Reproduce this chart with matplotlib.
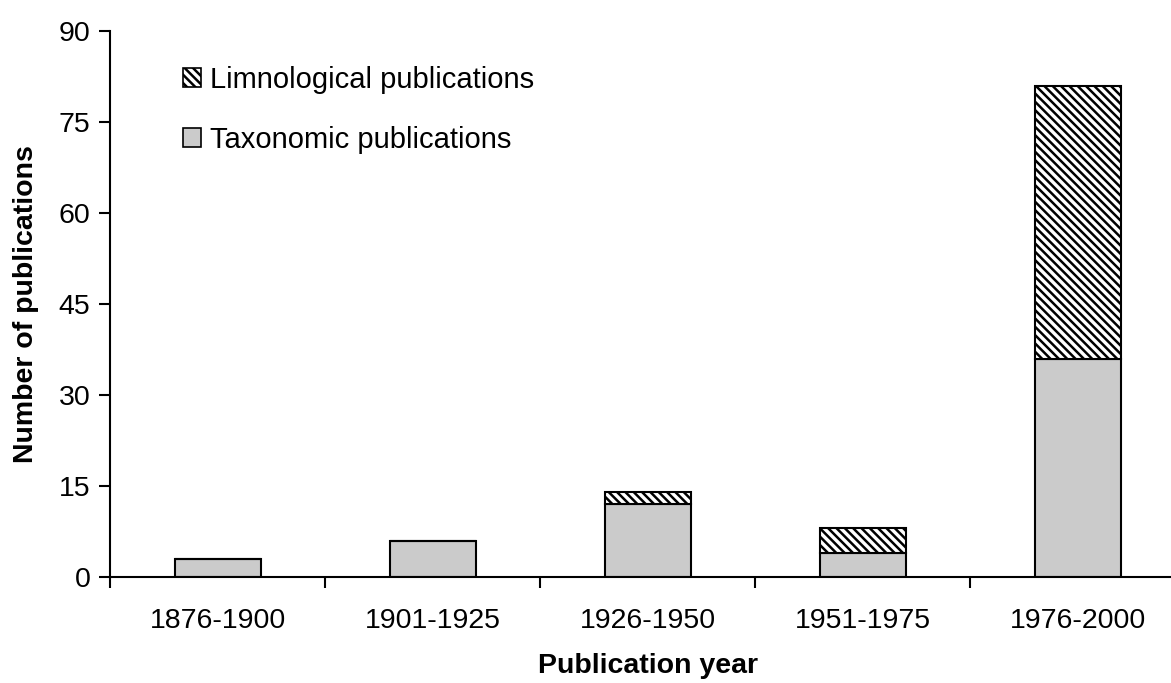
import matplotlib.pyplot as plt
from matplotlib.patches import Patch

plt.rcParams['font.family'] = ['Liberation Sans', 'DejaVu Sans']
plt.rcParams['hatch.linewidth'] = 1.8

# datos
periodos = ["1876-1900", "1901-1925", "1926-1950", "1951-1975", "1976-2000"]
taxonomicas = [3, 6, 12, 4, 36]
limnologicas = [0, 0, 2, 4, 45]
y_ticks = [0, 15, 30, 45, 60, 75, 90]

GRIS = "#cbcbcb"

fig = plt.figure(figsize=(11.71, 6.83), dpi=100)
ax = fig.add_axes([110 / 1171, 1 - 577 / 683, 1075 / 1171, 546 / 683])

x = list(range(len(periodos)))
ax.bar(x, taxonomicas, width=0.40, color=GRIS, edgecolor="black", linewidth=1.5)
ax.bar(x, limnologicas, width=0.40, bottom=taxonomicas, color="white",
       edgecolor="black", linewidth=1.5, hatch="\\\\\\\\")

ax.set_xlim(-0.5, len(periodos) - 0.5)
ax.set_ylim(0, 90)
ax.set_yticks(y_ticks)

# etiquetas en el centro, marcas en los limites de cada categoria
ax.set_xticks(x)
ax.set_xticklabels(periodos)
ax.set_xticks([i + 0.5 for i in range(-1, len(periodos))], minor=True)
ax.tick_params(axis="x", which="major", length=0, pad=22, labelsize=20.5)
ax.tick_params(axis="x", which="minor", length=8, width=1.5, direction="out")
ax.tick_params(axis="y", length=8, width=1.5, labelsize=20.5, pad=6)

for s in ["top", "right"]:
    ax.spines[s].set_visible(False)
for s in ["left", "bottom"]:
    ax.spines[s].set_linewidth(1.5)

ax.set_ylabel("Number of publications", fontsize=20.5, fontweight="bold", labelpad=14)
ax.set_xlabel("Publication year", fontsize=20.5, fontweight="bold", labelpad=14)

handles = [
    Patch(facecolor="white", edgecolor="black", hatch="\\\\\\\\", linewidth=1.2),
    Patch(facecolor=GRIS, edgecolor="black", linewidth=1.2),
]
ax.legend(handles, ["Limnological publications", "Taxonomic publications"],
          loc="upper left", bbox_to_anchor=(0.0545, 0.963), frameon=False,
          fontsize=21, handlelength=0.62, handleheight=0.62,
          handletextpad=0.3, labelspacing=1.1, borderpad=0)

fig.savefig("out.png", dpi=100)
